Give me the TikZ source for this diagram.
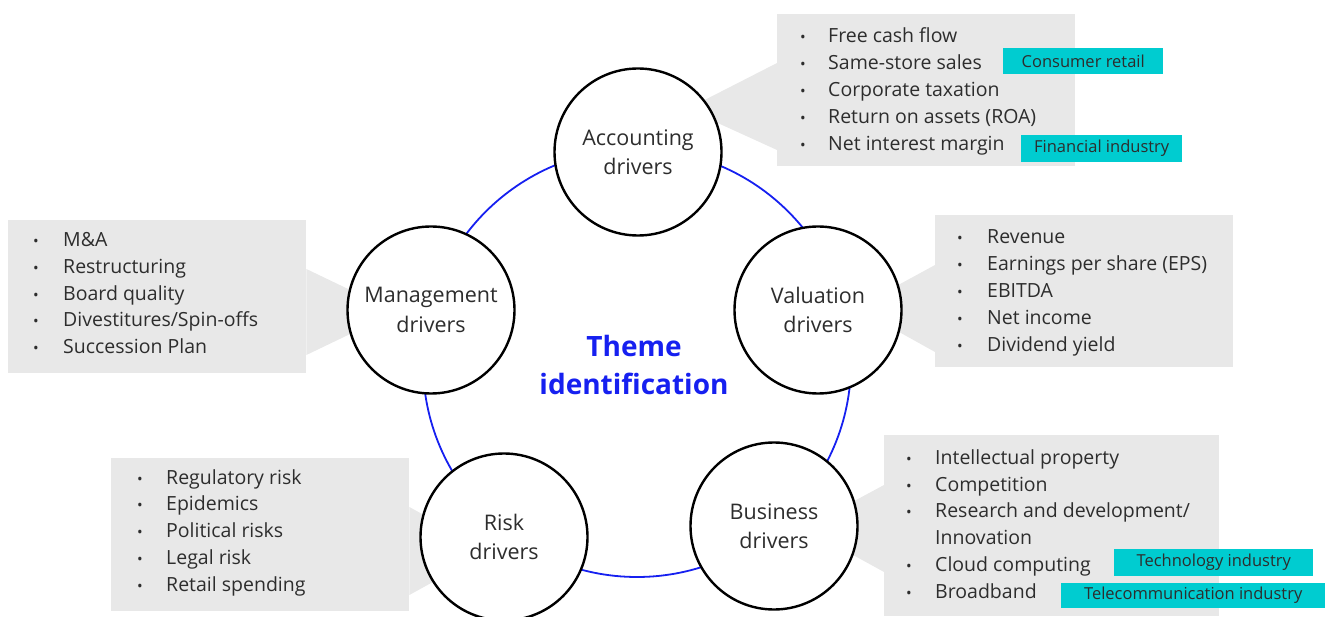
\documentclass[tikz,border=0pt]{standalone}
\usepackage{fontspec}
\setmainfont{Open Sans}
\usetikzlibrary{backgrounds}
\definecolor{boxgrey}{RGB}{232,232,232}
\definecolor{tagteal}{RGB}{0,204,208}
\definecolor{themeblue}{RGB}{22,32,240}
\definecolor{txt}{RGB}{45,45,45}
\begin{document}
\begin{tikzpicture}[x=1pt,y=-1pt,
  driver/.style={circle, draw=black, line width=2.4pt, fill=white, minimum size=167pt, inner sep=0pt, align=center, text=txt, font=\fontsize{21.5}{29.5}\selectfont},
  item/.style={anchor=base west, inner sep=0pt, text=txt, font=\fontsize{19.5}{22}\selectfont},
  bul/.style={anchor=base, inner sep=0pt, text=txt, font=\fontsize{15}{16}\selectfont},
  listbox/.style={fill=boxgrey, inner sep=0pt, anchor=north west},
  tag/.style={fill=tagteal, inner sep=0pt, anchor=north west, text=txt, font=\fontsize{16.5}{18}\selectfont},
  wedge/.style={fill=boxgrey}
]
\useasboundingbox (0,0) rectangle (1325,617);

% driver circles
\coordinate (hub) at (637,363);
\node[driver] (acc) at (638,152) {Accounting\\drivers};
\node[driver] (val) at (818,310) {Valuation\\drivers};
\node[driver] (bus) at (774,526) {Business\\drivers};
\node[driver] (risk) at (504,537) {Risk\\drivers};
\node[driver] (man) at (431,310) {Management\\drivers};

\begin{scope}[on background layer]
  % list boxes
  \node[listbox, minimum width=298pt, minimum height=152pt] (accbox) at (777,14) {};
  \node[listbox, minimum width=298pt, minimum height=153pt] (manbox) at (8,220) {};
  \node[listbox, minimum width=298pt, minimum height=152pt] (valbox) at (935,215) {};
  \node[listbox, minimum width=298pt, minimum height=153pt] (riskbox) at (111,458) {};
  \node[listbox, minimum width=335pt, minimum height=181pt] (busbox) at (884,435) {};
  % pointers
  \fill[wedge] (accbox.west |- 0,63) -- (accbox.west |- 0,150) -- (687,109) -- cycle;
  \fill[wedge] (manbox.east |- 0,269) -- (manbox.east |- 0,355) -- (396,312) -- cycle;
  \fill[wedge] (valbox.west |- 0,265) -- (valbox.west |- 0,352) -- (856,308) -- cycle;
  \fill[wedge] (riskbox.east |- 0,507) -- (riskbox.east |- 0,595) -- (489,551) -- cycle;
  \fill[wedge] (busbox.west |- 0,485) -- (busbox.west |- 0,572) -- (804,528) -- cycle;
  % hub ring
  \draw[themeblue, line width=1.8pt] (hub) circle (214);
\end{scope}

\node[align=center, text=themeblue, font=\fontsize{28}{38}\selectfont\bfseries] (theme) at (634,365) {Theme\\identification};

% accounting list
\foreach \t [count=\i] in {Free cash flow, Same-store sales, Corporate taxation, Return on assets (ROA), Net interest margin} {
  \node[bul] (accb\i) at (803,{43+26.9*(\i-1)}) {•};
  \node[item] (acct\i) at (828,{43+26.9*(\i-1)}) {\t};
}
% management list
\foreach \t [count=\i] in {M\&A, Restructuring, Board quality, Divestitures/Spin-offs, Succession Plan} {
  \node[bul] (manb\i) at (36,{247+26.6*(\i-1)}) {•};
  \node[item] (mant\i) at (63,{247+26.6*(\i-1)}) {\t};
}
% valuation list
\foreach \t [count=\i] in {Revenue, Earnings per share (EPS), EBITDA, Net income, Dividend yield} {
  \node[bul] (valb\i) at (960,{244+26.8*(\i-1)}) {•};
  \node[item] (valt\i) at (987,{244+26.8*(\i-1)}) {\t};
}
% risk list
\foreach \t [count=\i] in {Regulatory risk, Epidemics, Political risks, Legal risk, Retail spending} {
  \node[bul] (riskb\i) at (140,{484+26.8*(\i-1)}) {•};
  \node[item] (riskt\i) at (166,{484+26.8*(\i-1)}) {\t};
}
% business list
\node[bul] (busb1) at (909,464) {•};
\node[item] (bust1) at (935,464) {Intellectual property};
\node[bul] (busb2) at (909,491) {•};
\node[item] (bust2) at (935,491) {Competition};
\node[bul] (busb3) at (909,517) {•};
\node[item] (bust3) at (935,517) {Research and development/};
\node[item] (bust4) at (935,544) {Innovation};
\node[bul] (busb5) at (909,571) {•};
\node[item] (bust5) at (935,571) {Cloud computing};
\node[bul] (busb6) at (909,598) {•};
\node[item] (bust6) at (935,598) {Broadband};

% industry tags
\node[tag, minimum width=160pt, minimum height=26pt] (tagcr) at (1003,48) {Consumer retail};
\node[tag, minimum width=161pt, minimum height=27pt] (tagfi) at (1021,135) {Financial industry};
\node[tag, minimum width=199pt, minimum height=27pt] (tagte) at (1114,549) {Technology industry};
\node[tag, minimum width=264pt, minimum height=25pt] (tagtc) at (1061,583) {Telecommunication industry};
\end{tikzpicture}
\end{document}
